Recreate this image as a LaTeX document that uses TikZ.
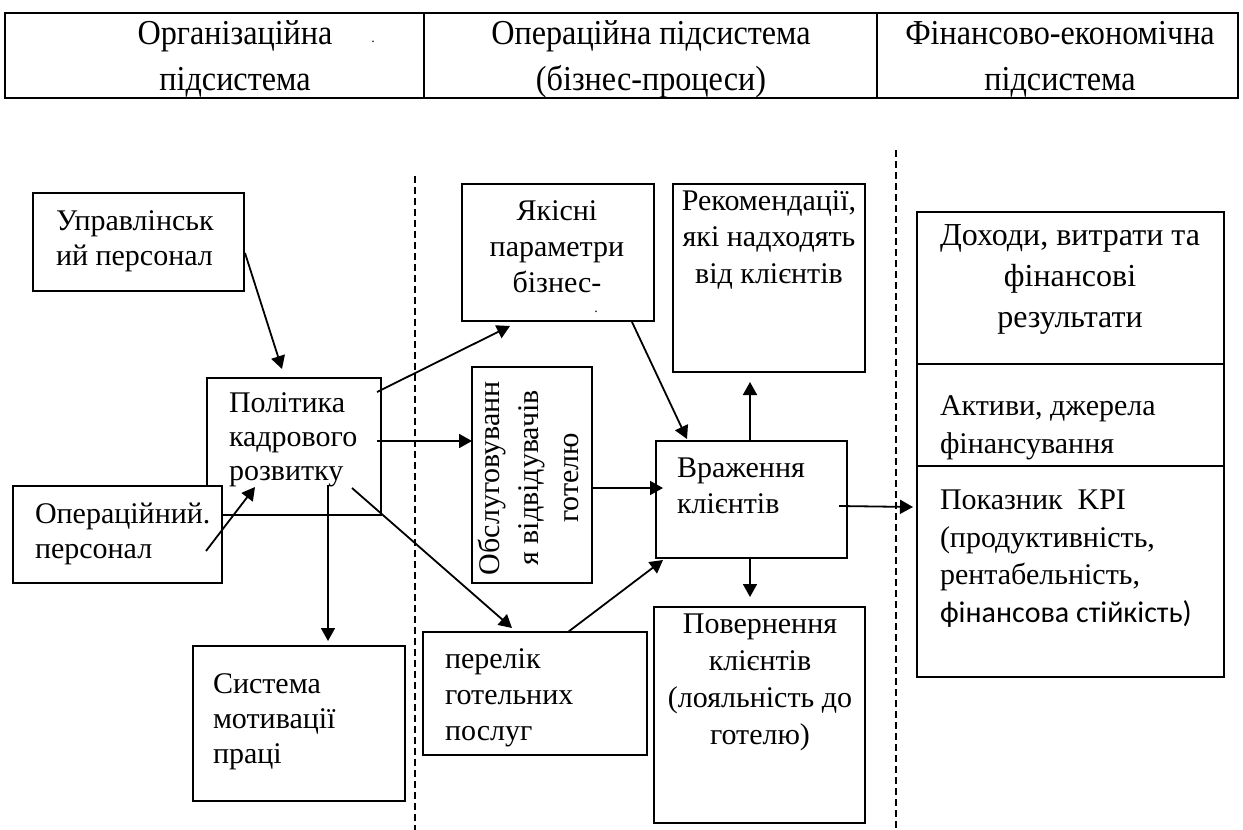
\documentclass[tikz,border=0pt]{standalone}
\usepackage{fontspec}
\setmainfont{Liberation Serif}
\newfontfamily\calib{Carlito}
\newfontfamily\tabfont[FakeStretch=0.92]{Liberation Serif}
\usetikzlibrary{calc,arrows.meta}
\begin{document}
\begin{tikzpicture}[x=1pt,y=-1pt,
  box/.style={draw, line width=1.6pt, inner sep=0pt, outer sep=0pt, fill=white, anchor=north west},
  txt/.style={inner sep=0pt, outer sep=0pt, font=\fontsize{30}{35}\selectfont},
  tabtxt/.style={inner sep=0pt, anchor=base, font=\tabfont\fontsize{35}{40}\selectfont},
  sep/.style={line width=1.3pt, dash pattern=on 7pt off 4pt},
  arr/.style={-{Triangle[length=13pt,width=14pt]}, line width=1.8pt},
  rule/.style={line width=1.6pt}]
\useasboundingbox (0,0) rectangle (1243,830);

% header table
\node[box, minimum width=1233pt, minimum height=85pt] (tbl) at (5,13) {};
\draw[rule] ($(tbl.north west)+(419,0)$) -- ($(tbl.south west)+(419,0)$);
\draw[rule] ($(tbl.north west)+(872,0)$) -- ($(tbl.south west)+(872,0)$);
\node[tabtxt] (h1a) at (235,44) {Організаційна};
\node[tabtxt] (h1b) at (235,90) {підсистема};
\node[inner sep=0pt, anchor=base, font=\fontsize{14}{14}\selectfont] (hdot) at (373,42) {.};
\node[tabtxt] (h2a) at (651,44) {Операційна підсистема};
\node[tabtxt] (h2b) at (651,90) {(бізнес-процеси)};
\node[tabtxt] (h3a) at (1060,44) {Фінансово-економічна};
\node[tabtxt] (h3b) at (1060,90) {підсистема};

% separators
\coordinate (s1a) at (415,176); \coordinate (s1b) at (415,830);
\coordinate (s2a) at (896,150); \coordinate (s2b) at (896,830);
\draw[sep] (s1a) -- (s1b);
\draw[sep] (s2a) -- (s2b);

% boxes
\node[box, minimum width=211pt, minimum height=98pt] (upr) at (33,193) {};
\node[box, minimum width=174pt, minimum height=137pt] (pol) at (207,378) {};
\node[box, minimum width=209pt, minimum height=97pt] (oper) at (13,486) {};
\node[box, minimum width=212pt, minimum height=155pt] (sys) at (193,646) {};
\node[box, minimum width=192pt, minimum height=137pt] (yak) at (462,184) {};
\node[box, minimum width=192pt, minimum height=188pt] (rek) at (673,184) {};
\node[box, minimum width=120pt, minimum height=216pt] (obs) at (472,367) {};
\node[box, minimum width=191pt, minimum height=117pt] (vraz) at (656,441) {};
\node[box, minimum width=224pt, minimum height=123pt] (per) at (423,632) {};
\node[box, minimum width=211pt, minimum height=216pt] (pov) at (654,607) {};
\node[box, minimum width=307pt, minimum height=465pt] (fin) at (917,212) {};
\draw[rule] ($(fin.north west)+(0,152)$) -- ($(fin.north east)+(0,152)$);
\draw[rule] ($(fin.north west)+(0,254)$) -- ($(fin.north east)+(0,254)$);

% texts (anchored at the baseline of the last line)
\node[txt, anchor=base west, align=left] (upr-t) at (56,265) {Управлінськ\\ий персонал};
\node[txt, anchor=base west, align=left, font=\fontsize{30}{34}\selectfont] (pol-t) at (229,480) {Політика\\кадрового\\розвитку};
\node[txt, anchor=base west, align=left] (oper-t) at (35,558) {Операційний.\\персонал};
\node[txt, anchor=base west, align=left, font=\fontsize{30}{35}\selectfont] (sys-t) at (213,763) {Система\\мотивації\\праці};
\node[txt, anchor=base, align=center, font=\fontsize{30}{36}\selectfont] (yak-t) at (557,292) {Якісні\\параметри\\бізнес-};
\node[inner sep=0pt, anchor=base, font=\fontsize{14}{14}\selectfont] (ydot) at (596,312) {.};
\node[txt, anchor=base, align=center, font=\fontsize{30}{36.5}\selectfont] (rek-t) at (769,283) {Рекомендації,\\які надходять\\від клієнтів};
\node[txt, anchor=base west, align=left, font=\fontsize{30}{36}\selectfont] (vraz-t) at (677,513) {Враження\\клієнтів};
\node[txt, anchor=base west, align=left, font=\fontsize{30}{36}\selectfont] (per-t) at (445,740) {перелік\\готельних\\послуг};
\node[txt, anchor=base, align=center, font=\fontsize{30}{37}\selectfont] (pov-t) at (760,744) {Повернення\\клієнтів\\(лояльність до\\готелю)};
\node[txt, anchor=base, align=center, font=\fontsize{32}{41}\selectfont] (fin1-t) at (1070,327) {Доходи, витрати та\\фінансові\\результати};
\node[txt, anchor=base west, align=left, font=\fontsize{30}{38}\selectfont] (fin2-t) at (940,453) {Активи, джерела\\фінансування};
\node[txt, anchor=base west, align=left, font=\fontsize{30}{37.5}\selectfont] (fin3-t) at (940,622) {Показник~~KPI\\(продуктивність,\\рентабельність,\\{\calib фінансова стійкість)}};
\node[txt, rotate=90, anchor=center, align=center, font=\fontsize{30}{39.5}\selectfont] (obs-t) at (528,478) {Обслуговуванн\\я відвідувачів\\готелю};

% arrows
\draw[arr] ($(upr.north east)+(1,60)$) -- ($(pol.north west)+(75,-9)$);
\draw[arr] ($(oper.north west)+(193,65)$) -- ($(pol.north west)+(48,109)$);
\draw[arr] ($(pol.north west)+(121,107)$) -- ($(sys.north west)+(135,-5)$);
\draw[arr] ($(pol.north east)+(-4,14)$) -- ($(yak.south west)+(48,5)$);
\draw[arr] ($(pol.north east)+(-4,63)$) -- ($(obs.north west)+(0,74)$);
\draw[arr] ($(pol.north west)+(145,110)$) -- ($(per.north west)+(89,-4)$);
\draw[arr] ($(obs.north east)+(0,121)$) -- ($(vraz.north west)+(7,47)$);
\draw[arr] ($(per.north west)+(145,0)$) -- ($(vraz.south west)+(7,2)$);
\draw[arr] ($(yak.south west)+(170,1)$) -- ($(vraz.north west)+(31,-2)$);
\draw[arr] ($(vraz.north west)+(94,0)$) -- ($(rek.south west)+(77,10)$);
\draw[arr] ($(vraz.south west)+(94,0)$) -- ($(pov.north west)+(96,-10)$);
\draw[arr] ($(vraz.north east)+(-8,65)$) -- ($(fin.north west)+(-4,295)$);
\end{tikzpicture}
\end{document}
